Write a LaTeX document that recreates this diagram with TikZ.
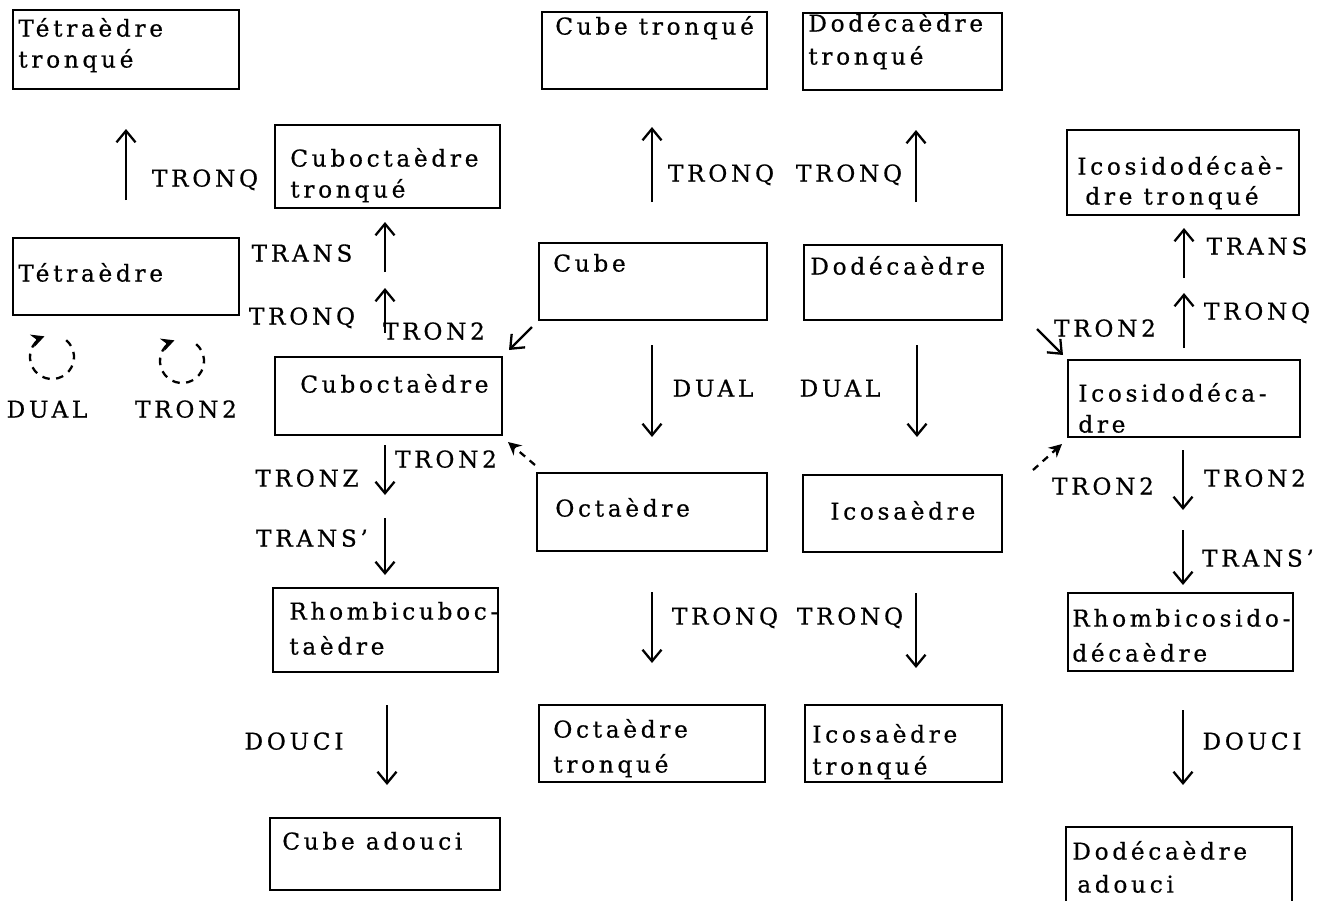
\documentclass[tikz,border=0pt]{standalone}
\usepackage{fontspec}
\setmainfont{DejaVu Serif}[LetterSpace=16,FakeBold=0.6]
\usetikzlibrary{arrows.meta,fit}
\begin{document}
\begin{tikzpicture}[x=0.2mm,y=-0.2mm,
  every node/.style={font=\fontsize{13.2pt}{15pt}\selectfont},
  box/.style={draw, line width=1.3pt, inner sep=0pt},
  txt/.style={anchor=mid west, inner sep=0pt},
  lbl/.style={anchor=mid, inner sep=0pt},
  arr/.style={line width=1.3pt, -{Straight Barb[length=2.3mm,width=3.8mm]}},
  darr/.style={line width=1.3pt, dash pattern=on 1.4mm off 1.2mm, -{Stealth[length=2.6mm,width=2.6mm]}},
  carr/.style={line width=1.3pt, dash pattern=on 1.5mm off 1.3mm, -{Stealth[length=2.6mm,width=2.6mm]}}]
\useasboundingbox (0,0) rectangle (1335,900);
\clip (0,0) rectangle (1335,900);
% boxes
\node[box, fit={(13,10)(239,89)}] (tt) {};
\node[box, fit={(542,12)(767,89)}] (ct) {};
\node[box, fit={(803,13)(1002,90)}] (dt) {};
\node[box, fit={(275,125)(500,208)}] (cot) {};
\node[box, fit={(1067,130)(1299,215)}] (idt) {};
\node[box, fit={(13,238)(239,315)}] (tet) {};
\node[box, fit={(539,243)(767,320)}] (cube) {};
\node[box, fit={(804,245)(1002,320)}] (dod) {};
\node[box, fit={(275,357)(502,435)}] (cuo) {};
\node[box, fit={(1068,360)(1300,437)}] (idd) {};
\node[box, fit={(537,473)(767,551)}] (oct) {};
\node[box, fit={(803,475)(1002,552)}] (ico) {};
\node[box, fit={(273,588)(498,672)}] (rco) {};
\node[box, fit={(1068,593)(1293,671)}] (rid) {};
\node[box, fit={(539,705)(765,782)}] (oct2) {};
\node[box, fit={(805,705)(1002,782)}] (ico2) {};
\node[box, fit={(270,818)(500,890)}] (cad) {};
\node[box, fit={(1066,827)(1292,910)}] (dad) {};
% texts
\node[txt] (tt1) at (18,32) {Tétraèdre};
\node[txt] (tt2) at (18,63) {tronqué};
\node[txt] (ct1) at (555,30) {Cube tronqué};
\node[txt] (dt1) at (808,27) {Dodécaèdre};
\node[txt] (dt2) at (808,60) {tronqué};
\node[txt] (cot1) at (290,162) {Cuboctaèdre};
\node[txt] (cot2) at (290,193) {tronqué};
\node[txt] (idt1) at (1077,170) {Icosidodécaè-};
\node[txt] (idt2) at (1085,200) {dre tronqué};
\node[txt] (tet1) at (18,277) {Tétraèdre};
\node[txt] (cube1) at (553,267) {Cube};
\node[txt] (dod1) at (810,270) {Dodécaèdre};
\node[txt] (cuo1) at (300,388) {Cuboctaèdre};
\node[txt] (idd1) at (1078,397) {Icosidodéca-};
\node[txt] (idd2) at (1078,428) {dre};
\node[txt] (oct1) at (555,512) {Octaèdre};
\node[txt] (ico1) at (830,515) {Icosaèdre};
\node[txt] (rco1) at (289,615) {Rhombicuboc-};
\node[txt] (rco2) at (289,650) {taèdre};
\node[txt] (rid1) at (1072,622) {Rhombicosido-};
\node[txt] (rid2) at (1072,657) {décaèdre};
\node[txt] (oct21) at (553,733) {Octaèdre};
\node[txt] (oct22) at (553,768) {tronqué};
\node[txt] (ico21) at (812,738) {Icosaèdre};
\node[txt] (ico22) at (812,770) {tronqué};
\node[txt] (cad1) at (282,845) {Cube adouci};
\node[txt] (dad1) at (1072,855) {Dodécaèdre};
\node[txt] (dad2) at (1077,888) {adouci};
% labels
\node[lbl] (l1) at (205,182) {TRONQ};
\node[lbl] (l2) at (302,257) {TRANS};
\node[lbl] (l3) at (302,320) {TRONQ};
\node[lbl] (l4) at (434,335) {TRON2};
\node[lbl] (l5) at (47,413) {DUAL};
\node[lbl] (l6) at (186,413) {TRON2};
\node[lbl] (l7) at (721,177) {TRONQ};
\node[lbl] (l8) at (849,177) {TRONQ};
\node[lbl] (l9) at (713,392) {DUAL};
\node[lbl] (l10) at (840,392) {DUAL};
\node[lbl] (l11) at (1105,332) {TRON2};
\node[lbl] (l12) at (1257,250) {TRANS};
\node[lbl] (l13) at (1257,315) {TRONQ};
\node[lbl] (l14) at (446,463) {TRON2};
\node[lbl] (l15) at (307,482) {TRONZ};
\node[lbl] (l16) at (312,542) {TRANS'};
\node[lbl] (l17) at (1103,490) {TRON2};
\node[lbl] (l18) at (1255,482) {TRON2};
\node[lbl] (l19) at (1258,562) {TRANS'};
\node[lbl] (l20) at (725,620) {TRONQ};
\node[lbl] (l21) at (850,620) {TRONQ};
\node[lbl] (l22) at (294,745) {DOUCI};
\node[lbl] (l23) at (1252,745) {DOUCI};
% arrow end points
\coordinate (a1s) at (126,200);  \coordinate (a1e) at (126,129);
\coordinate (a2s) at (385,272);  \coordinate (a2e) at (385,222);
\coordinate (a3s) at (385,333);  \coordinate (a3e) at (385,288);
\coordinate (a4s) at (532,327);  \coordinate (a4e) at (509,350);
\coordinate (a5s) at (652,202);  \coordinate (a5e) at (652,127);
\coordinate (a6s) at (916,202);  \coordinate (a6e) at (916,130);
\coordinate (a7s) at (652,345);  \coordinate (a7e) at (652,437);
\coordinate (a8s) at (917,345);  \coordinate (a8e) at (917,437);
\coordinate (a9s) at (1037,329); \coordinate (a9e) at (1063,355);
\coordinate (a10s) at (1184,278); \coordinate (a10e) at (1184,228);
\coordinate (a11s) at (1184,348); \coordinate (a11e) at (1184,293);
\coordinate (a12s) at (385,445); \coordinate (a12e) at (385,495);
\coordinate (a13s) at (385,518); \coordinate (a13e) at (385,575);
\coordinate (a14s) at (1183,450); \coordinate (a14e) at (1183,510);
\coordinate (a15s) at (1183,530); \coordinate (a15e) at (1183,585);
\coordinate (a16s) at (652,592); \coordinate (a16e) at (652,663);
\coordinate (a17s) at (916,593); \coordinate (a17e) at (916,668);
\coordinate (a18s) at (387,705); \coordinate (a18e) at (387,785);
\coordinate (a19s) at (1183,710); \coordinate (a19e) at (1183,785);
\coordinate (d1s) at (535,465); \coordinate (d1e) at (508,442);
\coordinate (d2s) at (1033,470); \coordinate (d2e) at (1062,444);
\coordinate (c1) at (52,357);
\coordinate (c2) at (182,361);
% arrows
\foreach \i in {1,...,19} \draw[arr] (a\i s) -- (a\i e);
\draw[darr] (d1s) -- (d1e);
\draw[darr] (d2s) -- (d2e);
\draw[carr] (c1) ++(-50:22) arc[start angle=-50, end angle=250, radius=22];
\draw[carr] (c2) ++(-50:22) arc[start angle=-50, end angle=250, radius=22];
\end{tikzpicture}
\end{document}
